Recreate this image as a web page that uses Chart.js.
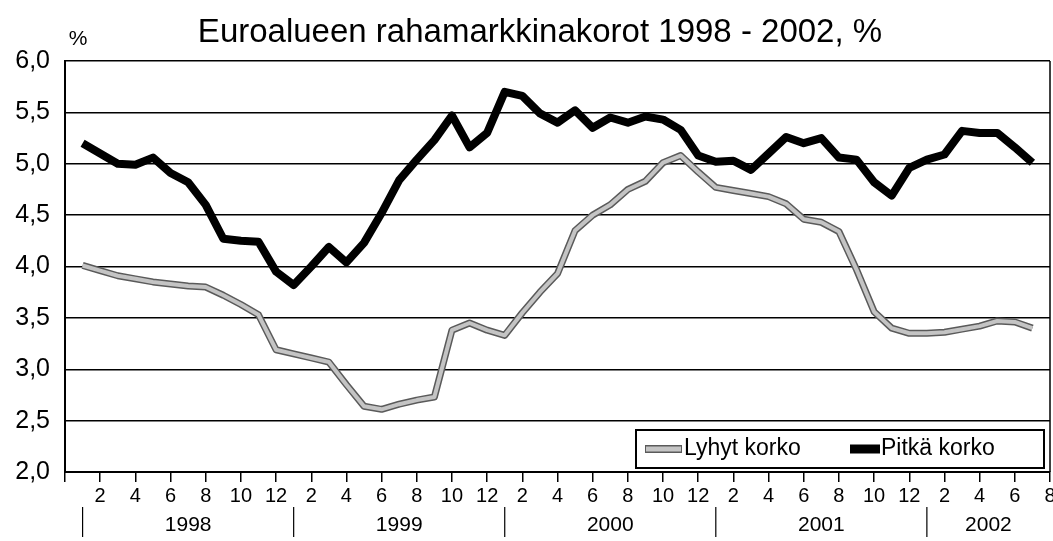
<!DOCTYPE html>
<html lang="fi">
<head>
    <meta charset="UTF-8">
    <title>Euroalueen rahamarkkinakorot 1998 - 2002</title>
    <script src="https://cdn.jsdelivr.net/npm/chart.js"></script>
    <style>
        body {
            margin: 0;
            padding: 0;
            background: #fff;
        }
        #wrap {
            width: 1053px;
            height: 541px;
        }
    </style>
</head>
<body>
    <div id="wrap">
        <canvas id="rateChart" width="1053" height="541"></canvas>
    </div>

    <script>
        const titleText = 'Euroalueen rahamarkkinakorot 1998 - 2002, %';
        const unitLabel = '%';
        const seriesNames = ['Lyhyt korko', 'Pitkä korko'];

        // tick labels on the month axis (repeat every year) and the year labels below
        const monthTicks = ['2', '4', '6', '8', '10', '12'];
        const years = ['1998', '1999', '2000', '2001', '2002'];
        const yearStarts = [1, 13, 25, 37, 49];   // month number where each year begins
        const axisEnd = 56;                        // axis runs to 8/2002

        // monthly values, 1/1998 - 7/2002
        const shortRate = [
            4.01, 3.96, 3.91, 3.88, 3.85, 3.83, 3.81, 3.80, 3.72, 3.63, 3.53, 3.19,
            3.15, 3.11, 3.07, 2.85, 2.64, 2.61, 2.66, 2.70, 2.73, 3.38, 3.45, 3.38,
            3.33, 3.55, 3.75, 3.93, 4.35, 4.50, 4.60, 4.75, 4.83, 5.01, 5.08, 4.92,
            4.77, 4.74, 4.71, 4.68, 4.61, 4.46, 4.43, 4.34, 3.97, 3.56, 3.40, 3.35,
            3.35, 3.36, 3.39, 3.42, 3.47, 3.46, 3.40
        ];
        const longRate = [
            5.20, 5.10, 5.00, 4.99, 5.06, 4.91, 4.82, 4.60, 4.27, 4.25, 4.24, 3.95,
            3.82, 4.00, 4.19, 4.04, 4.23, 4.52, 4.84, 5.04, 5.23, 5.47, 5.16, 5.30,
            5.70, 5.66, 5.49, 5.40, 5.52, 5.35, 5.45, 5.40, 5.46, 5.43, 5.33, 5.08,
            5.02, 5.03, 4.94, 5.10, 5.26, 5.20, 5.25, 5.06, 5.04, 4.82, 4.69, 4.96,
            5.04, 5.09, 5.32, 5.30, 5.30, 5.16, 5.01
        ];

        const FONT = '"Liberation Sans", Arial, Helvetica, sans-serif';

        const toPoints = arr => arr.map((v, i) => ({ x: i + 1, y: v }));

        // title, frame, year row and legend box drawn on top of the chart
        const decorPlugin = {
            id: 'decor',
            afterDraw(chart) {
                const { ctx, chartArea: a, scales: { x } } = chart;
                ctx.save();

                // right edge of the plot frame
                ctx.strokeStyle = '#000';
                ctx.lineWidth = 1.5;
                ctx.beginPath();
                ctx.moveTo(a.right, a.top);
                ctx.lineTo(a.right, a.bottom);
                ctx.stroke();

                // title + unit
                ctx.fillStyle = '#000';
                ctx.textAlign = 'center';
                ctx.textBaseline = 'middle';
                ctx.font = '33px ' + FONT;
                ctx.fillText(titleText, 540, 33);
                ctx.font = '21px ' + FONT;
                ctx.fillText(unitLabel, 78, 39);

                // year separators and labels
                ctx.lineWidth = 1.2;
                ctx.font = '21px ' + FONT;
                yearStarts.forEach((m, i) => {
                    const px = x.getPixelForValue(m);
                    ctx.beginPath();
                    ctx.moveTo(px, a.bottom + 35);
                    ctx.lineTo(px, a.bottom + 65);
                    ctx.stroke();
                    const next = i < yearStarts.length - 1 ? yearStarts[i + 1] : axisEnd;
                    ctx.fillText(years[i], x.getPixelForValue((m + next) / 2), a.bottom + 53);
                });

                // legend
                const bx = a.right - 414, by = a.bottom - 42, bw = 408, bh = 38;
                ctx.fillStyle = '#fff';
                ctx.fillRect(bx, by, bw, bh);
                ctx.lineWidth = 2;
                ctx.strokeRect(bx, by, bw, bh);
                const cy = by + bh / 2;

                ctx.fillStyle = '#5a5a5a';
                ctx.fillRect(bx + 9, cy - 4, 37, 8);
                ctx.fillStyle = '#c4c4c4';
                ctx.fillRect(bx + 10, cy - 2.5, 35, 5);
                ctx.fillStyle = '#000';
                ctx.fillRect(bx + 214, cy - 4.5, 30, 9);

                ctx.font = '23px ' + FONT;
                ctx.textAlign = 'left';
                ctx.fillText(seriesNames[0], bx + 48, cy);
                ctx.fillText(seriesNames[1], bx + 245, cy);

                ctx.restore();
            }
        };

        new Chart(document.getElementById('rateChart'), {
            type: 'line',
            data: {
                datasets: [
                    {
                        label: seriesNames[1],
                        data: toPoints(longRate),
                        borderColor: '#000',
                        borderWidth: 8,
                        borderJoinStyle: 'round',
                        borderCapStyle: 'butt',
                        pointRadius: 0,
                        order: 0
                    },
                    {
                        label: seriesNames[0],
                        data: toPoints(shortRate),
                        borderColor: '#c4c4c4',
                        borderWidth: 4,
                        borderJoinStyle: 'round',
                        pointRadius: 0,
                        order: 1
                    },
                    {
                        label: seriesNames[0] + ' outline',
                        data: toPoints(shortRate),
                        borderColor: '#5a5a5a',
                        borderWidth: 7,
                        borderJoinStyle: 'round',
                        pointRadius: 0,
                        order: 2
                    }
                ]
            },
            options: {
                responsive: false,
                animation: false,
                layout: { padding: { top: 61, right: 3, left: 0, bottom: 0 } },
                plugins: {
                    legend: { display: false },
                    tooltip: { enabled: false }
                },
                scales: {
                    x: {
                        type: 'linear',
                        min: 0,
                        max: axisEnd,
                        afterFit(s) { s.height = 69; s.paddingRight = 0; s.paddingLeft = 0; },
                        grid: {
                            drawOnChartArea: false,
                            drawTicks: true,
                            tickLength: 10,
                            color: '#000',
                            lineWidth: 1.5
                        },
                        border: { display: true, color: '#000', width: 2 },
                        ticks: {
                            stepSize: 2,
                            autoSkip: false,
                            maxRotation: 0,
                            padding: 2,
                            color: '#000',
                            font: { family: FONT, size: 20 },
                            callback: v => v === 0 ? '' : monthTicks[(v / 2 - 1) % monthTicks.length]
                        }
                    },
                    y: {
                        min: 2,
                        max: 6,
                        afterFit(s) { s.width = 65; },
                        grid: {
                            color: '#000',
                            lineWidth: 1.5,
                            drawTicks: false
                        },
                        border: { display: true, color: '#000', width: 2 },
                        ticks: {
                            stepSize: 0.5,
                            padding: 15,
                            color: '#000',
                            font: { family: FONT, size: 25 },
                            callback: v => v.toFixed(1).replace('.', ',')
                        }
                    }
                }
            },
            plugins: [decorPlugin]
        });
    </script>
</body>
</html>
